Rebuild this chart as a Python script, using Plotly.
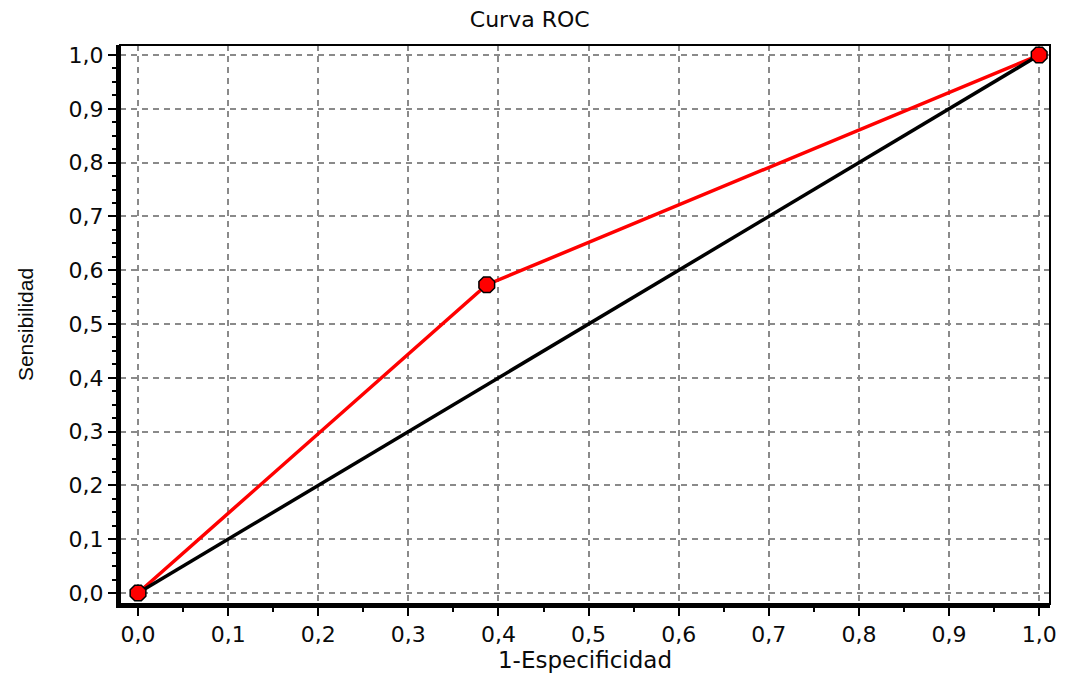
import plotly.graph_objects as go

# ROC data
fpr = [0.0, 0.387, 1.0]
tpr = [0.0, 0.573, 1.0]
ref_x = [0.0, 1.0]
ref_y = [0.0, 1.0]

tick_vals = [0.0, 0.1, 0.2, 0.3, 0.4, 0.5, 0.6, 0.7, 0.8, 0.9, 1.0]
tick_text = ["0,0", "0,1", "0,2", "0,3", "0,4", "0,5", "0,6", "0,7", "0,8", "0,9", "1,0"]

title_text = "Curva ROC"
x_title = "1-Especificidad"
y_title = "Sensibilidad"

fig = go.Figure()
fig.add_trace(go.Scatter(x=fpr, y=tpr, mode="lines",
                         line=dict(color="#ff0000", width=3.5),
                         showlegend=False, hoverinfo="skip", cliponaxis=False))
fig.add_trace(go.Scatter(x=ref_x, y=ref_y, mode="lines",
                         line=dict(color="#000000", width=3.5),
                         showlegend=False, hoverinfo="skip", cliponaxis=False))
fig.add_trace(go.Scatter(x=fpr, y=tpr, mode="markers",
                         marker=dict(symbol="octagon", size=17, color="#ff0000",
                                     line=dict(color="#000000", width=1.5)),
                         showlegend=False, cliponaxis=False))

tick_font = dict(family="DejaVu Sans", size=22, color="#0a0a0a")

fig.update_layout(
    width=1068, height=677,
    margin=dict(l=120, r=18, t=45, b=73),
    paper_bgcolor="white", plot_bgcolor="white",
    title=dict(text=title_text, x=0.496, xref="container", xanchor="center",
               y=1 - 19 / 677, yref="container", yanchor="middle",
               font=dict(family="DejaVu Sans", size=22, color="#0a0a0a")),
    xaxis=dict(range=[-0.02, 1.012], tickvals=tick_vals, ticktext=tick_text,
               tickfont=tick_font, ticks="outside", ticklen=8, tickwidth=1.5,
               tickcolor="#000000",
               minor=dict(dtick=0.05, tick0=0, ticks="outside", ticklen=4,
                          tickwidth=1.5, tickcolor="#000000", showgrid=False),
               showgrid=True, gridcolor="#8a8a8a", gridwidth=2, griddash="6px,5px",
               showline=True, linecolor="#000000", linewidth=4,
               zeroline=False, fixedrange=True, automargin=False,
               title=dict(text=x_title, standoff=2,
                          font=dict(family="DejaVu Sans", size=23, color="#0a0a0a"))),
    yaxis=dict(range=[-0.0204, 1.0186], tickvals=tick_vals, ticktext=tick_text,
               tickfont=tick_font, ticks="outside", ticklen=8, tickwidth=1.5,
               tickcolor="#000000",
               minor=dict(dtick=0.025, tick0=0, ticks="outside", ticklen=4,
                          tickwidth=1.5, tickcolor="#000000", showgrid=False),
               showgrid=True, gridcolor="#8a8a8a", gridwidth=2, griddash="6px,5px",
               showline=True, linecolor="#000000", linewidth=4,
               zeroline=False, fixedrange=True, automargin=False,
               title=dict(text=y_title, standoff=30,
                          font=dict(family="Liberation Sans Narrow, Liberation Sans", size=21,
                                    color="#0a0a0a"))),
    shapes=[dict(type="rect", xref="paper", yref="paper", x0=0, y0=0, x1=1, y1=1,
                 line=dict(color="#000000", width=2), layer="above")],
)

fig.write_html("out.html")
